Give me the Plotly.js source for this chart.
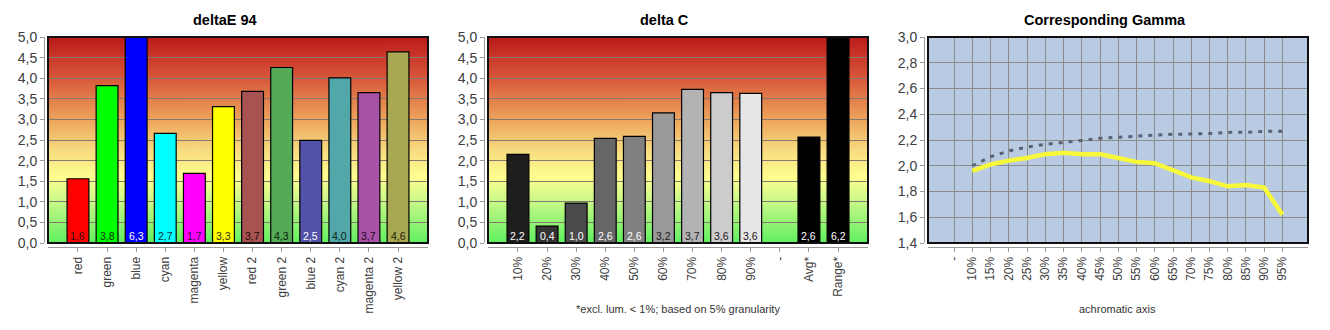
<!DOCTYPE html>
<html>
<head>
<meta charset="utf-8">
<script src="https://cdn.plot.ly/plotly-3.0.1.min.js"></script>
<style>
html,body{margin:0;padding:0;background:#fff;}
#chart{width:1330px;height:330px;}
</style>
</head>
<body>
<div id="chart"></div>
<script>
// ---------- data ----------
const deltaECategories = ['red','green','blue','cyan','magenta','yellow','red 2','green 2','blue 2','cyan 2','magenta 2','yellow 2'];
const deltaEValues = [1.56, 3.82, 6.3, 2.66, 1.69, 3.31, 3.68, 4.26, 2.49, 4.01, 3.65, 4.64];
const deltaELabels = ['1,6','3,8','6,3','2,7','1,7','3,3','3,7','4,3','2,5','4,0','3,7','4,6'];

const deltaCCategories = ['10%','20%','30%','40%','50%','60%','70%','80%','90%','-','Avg*','Range*'];
const deltaCValues = [2.15, 0.41, 0.97, 2.54, 2.59, 3.16, 3.73, 3.65, 3.63, null, 2.57, 6.2];
const deltaCLabels = ['2,2','0,4','1,0','2,6','2,6','3,2','3,7','3,6','3,6','','2,6','6,2'];

const gammaCategories = ['-','10%','15%','20%','25%','30%','35%','40%','45%','50%','55%','60%','65%','70%','75%','80%','85%','90%','95%'];
const gammaMeasured = [null, 1.96, 2.01, 2.04, 2.06, 2.09, 2.10, 2.09, 2.09, 2.06, 2.03, 2.02, 1.965, 1.91, 1.88, 1.84, 1.85, 1.83, 1.62];
const gammaTarget = [null, 2.00, 2.07, 2.115, 2.145, 2.166, 2.184, 2.197, 2.213, 2.223, 2.231, 2.238, 2.244, 2.246, 2.25, 2.259, 2.26, 2.267, 2.267];

// ---------- styles ----------
const deltaEColors = ['#ff0000','#00ff00','#0000ff','#00ffff','#ff00ff','#ffff00','#a85252','#55aa55','#5252a8','#52a8a8','#a852a8','#a8a852'];
const deltaELabelColors = ['#301010','#103010','#ffffff','#103030','#301030','#303010','#200808','#082008','#ffffff','#082020','#200820','#202008'];
const deltaCColors = ['#1e1e1e','#333333','#4a4a4a','#666666','#808080','#999999','#b3b3b3','#cccccc','#e6e6e6','#ffffff','#000000','#000000'];
const deltaCLabelColors = ['#ffffff','#ffffff','#ffffff','#ffffff','#ffffff','#202020','#202020','#202020','#202020','#000000','#ffffff','#ffffff'];

const W = 1330, H = 330;
const px = v => v / W;
const py = v => 1 - v / H;

// gradient background image
function gradientURI() {
  const c = document.createElement('canvas');
  c.width = 4; c.height = 412;
  const g = c.getContext('2d');
  const gr = g.createLinearGradient(0, 0, 0, 412);
  gr.addColorStop(0.00, '#bb1a1a');
  gr.addColorStop(0.20, '#d8583a');
  gr.addColorStop(0.40, '#eda45c');
  gr.addColorStop(0.55, '#f8db80');
  gr.addColorStop(0.68, '#ffff90');
  gr.addColorStop(0.80, '#c8f888');
  gr.addColorStop(1.00, '#60f060');
  g.fillStyle = gr;
  g.fillRect(0, 0, 4, 412);
  return c.toDataURL('image/png');
}
const grad = gradientURI();

const panels = [
  {off: 0},
  {off: 440},
  {off: 880}
];
const plotL = 48, plotR = 428, plotT = 37, plotB = 243, axisY = 247, axisX = 44;

const font = 'Liberation Sans, Arial, sans-serif';
const tickFont = {family: font, size: 12, color: '#404040'};
const yTickFont = {family: font, size: 14, color: '#404040'};

function xAxis(i, range) {
  const o = panels[i].off;
  return {
    domain: [px(o + plotL), px(o + plotR)],
    anchor: 'free', position: py(axisY),
    type: 'category',
    range: range,
    showline: true, linecolor: '#999999', linewidth: 1,
    ticks: 'outside', ticklen: 4, tickcolor: '#999999',
    tickangle: -90, tickfont: tickFont,
    showgrid: false, zeroline: false, fixedrange: true
  };
}
function yAxis(i, range, dtick, grid) {
  const o = panels[i].off;
  return {
    domain: [py(plotB), py(plotT)],
    anchor: 'free', position: px(o + axisX),
    range: range, dtick: dtick, tick0: range[0], tickformat: '.1f',
    showline: true, linecolor: '#999999', linewidth: 1,
    ticks: 'outside', ticklen: 4, tickcolor: '#999999',
    tickfont: yTickFont,
    showgrid: true, gridcolor: grid, gridwidth: 1,
    zeroline: false, fixedrange: true
  };
}

const traces = [
  {
    type: 'bar', x: deltaECategories, y: deltaEValues, width: 0.75,
    marker: {color: deltaEColors, line: {color: '#000000', width: 1.2}},
    xaxis: 'x', yaxis: 'y', hoverinfo: 'skip', showlegend: false
  },
  {
    type: 'bar', x: deltaCCategories, y: deltaCValues, width: 0.75,
    marker: {color: deltaCColors, line: {color: '#000000', width: 1.2}},
    xaxis: 'x2', yaxis: 'y2', hoverinfo: 'skip', showlegend: false
  },
  {
    type: 'scatter', mode: 'lines', x: gammaCategories, y: gammaTarget,
    line: {color: '#5a6272', width: 3, dash: '4px,6px'},
    xaxis: 'x3', yaxis: 'y3', hoverinfo: 'skip', showlegend: false, connectgaps: false
  },
  {
    type: 'scatter', mode: 'lines', x: gammaCategories, y: gammaMeasured,
    line: {color: '#f8f83a', width: 4.5},
    xaxis: 'x3', yaxis: 'y3', hoverinfo: 'skip', showlegend: false, connectgaps: false
  }
];

const annotations = [];
const titles = ['deltaE 94', 'delta C', 'Corresponding Gamma'];
const titleCenters = [225, 664, 1105];
titles.forEach((t, i) => annotations.push({
  text: '<b>' + t + '</b>', xref: 'paper', yref: 'paper',
  x: px(titleCenters[i]), y: py(20), xanchor: 'center', yanchor: 'middle',
  showarrow: false, font: {family: font, size: 14.5, color: '#000000'}
}));
annotations.push({
  text: '*excl. lum. &lt; 1%; based on 5% granularity', xref: 'paper', yref: 'paper',
  x: px(678), y: py(309), xanchor: 'center', yanchor: 'middle',
  showarrow: false, font: {family: font, size: 11, color: '#333333'}
});
annotations.push({
  text: 'achromatic axis', xref: 'paper', yref: 'paper',
  x: px(1117), y: py(309), xanchor: 'center', yanchor: 'middle',
  showarrow: false, font: {family: font, size: 11, color: '#333333'}
});
deltaECategories.forEach((c, i) => annotations.push({
  text: deltaELabels[i], x: c, y: 0, xref: 'x', yref: 'y',
  xanchor: 'center', yanchor: 'middle', yshift: 7, showarrow: false,
  font: {family: font, size: 10.5, color: deltaELabelColors[i]}
}));
deltaCCategories.forEach((c, i) => {
  if (!deltaCLabels[i]) return;
  annotations.push({
    text: deltaCLabels[i], x: c, y: 0, xref: 'x2', yref: 'y2',
    xanchor: 'center', yanchor: 'middle', yshift: 7, showarrow: false,
    font: {family: font, size: 10.5, color: deltaCLabelColors[i]}
  });
});

const images = [0, 1].map(i => ({
  source: grad, xref: 'paper', yref: 'paper',
  x: px(panels[i].off + plotL), y: py(plotT),
  sizex: px(plotR - plotL), sizey: (plotB - plotT) / H,
  xanchor: 'left', yanchor: 'top', sizing: 'stretch', layer: 'below'
}));

const shapes = [
  {type: 'rect', xref: 'x3 domain', yref: 'y3 domain', x0: 0, x1: 1, y0: 0, y1: 1,
   fillcolor: '#b8cbe3', line: {width: 0}, layer: 'below'}
];
['', '2', '3'].forEach(s => shapes.push({
  type: 'rect', xref: 'x' + s + ' domain', yref: 'y' + s + ' domain',
  x0: 0, x1: 1, y0: 0, y1: 1, line: {color: '#111111', width: 2}, fillcolor: 'rgba(0,0,0,0)', layer: 'above'
}));

const x3 = xAxis(2, [-1.43, 19.4]);
x3.showgrid = true; x3.gridcolor = '#8c8c8c'; x3.gridwidth = 1;

const layout = {
  width: W, height: H,
  margin: {l: 0, r: 0, t: 0, b: 0},
  paper_bgcolor: '#ffffff', plot_bgcolor: 'rgba(0,0,0,0)',
  separators: ',.',
  showlegend: false,
  xaxis: xAxis(0, [-1.03, 12.03]),
  yaxis: yAxis(0, [0, 5], 0.5, '#857a70'),
  xaxis2: xAxis(1, [-1.03, 12.03]),
  yaxis2: yAxis(1, [0, 5], 0.5, '#857a70'),
  xaxis3: x3,
  yaxis3: yAxis(2, [1.4, 3.0], 0.2, '#8c8c8c'),
  annotations: annotations,
  images: images,
  shapes: shapes,
  bargap: 0.25
};

Plotly.newPlot('chart', traces, layout, {displayModeBar: false, staticPlot: true});
</script>
</body>
</html>
